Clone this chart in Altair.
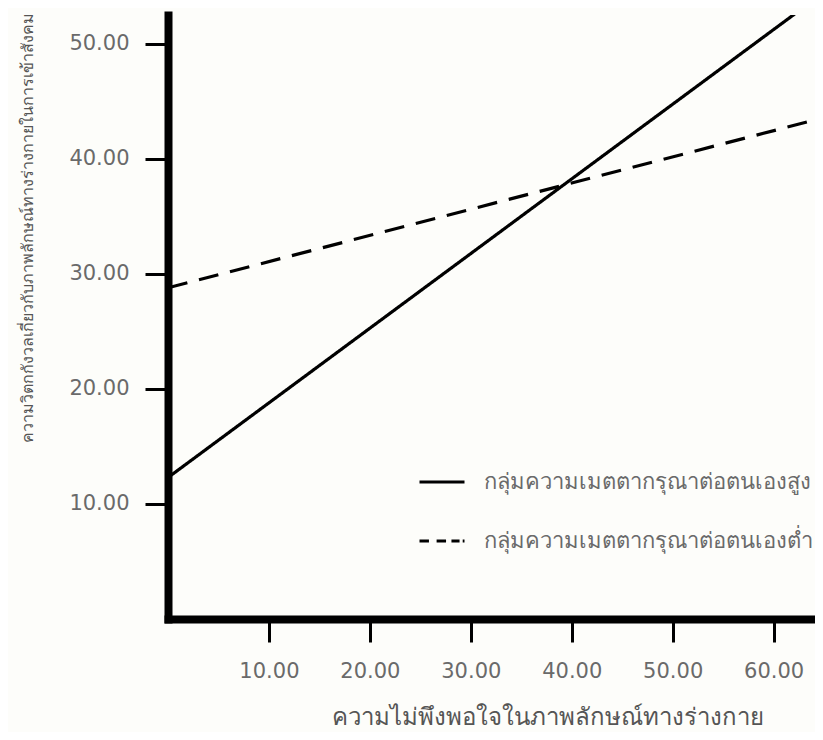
import altair as alt
import pandas as pd

# Data (line endpoints)
groups = ["กลุ่มความเมตตากรุณาต่อตนเองสูง", "กลุ่มความเมตตากรุณาต่อตนเองต่ำ"]
x_start = [0.0, 0.0]
x_end = [65.0, 65.0]
y_start = [12.3, 28.8]
y_end = [54.5, 43.6]

x_ticks = [10, 20, 30, 40, 50, 60]
y_ticks = [10, 20, 30, 40, 50]

x_title = "ความไม่พึงพอใจในภาพลักษณ์ทางร่างกาย"
y_title = "ความวิตกกังวลเกี่ยวกับภาพลักษณ์ทางร่างกายในการเข้าสังคม"

rows = []
for g, xs, xe, ys, ye in zip(groups, x_start, x_end, y_start, y_end):
    rows.append({"group": g, "legend_group": g, "x": xs, "y": ys})
    rows.append({"group": g, "legend_group": g, "x": xe, "y": ye})
df = pd.DataFrame(rows)

LABEL_FONT = "DejaVu Sans"
THAI_FONT = "Noto Sans"
GRAY = "#6a6a6a"

x_enc = alt.X(
    "x:Q",
    scale=alt.Scale(domain=[0, 64.1], nice=False, zero=False),
    axis=alt.Axis(
        values=x_ticks, format=".2f", title=x_title,
        domainColor="black", domainWidth=8, domainCap="square",
        tickColor="black", tickWidth=3, tickSize=23,
        labelFont=LABEL_FONT, labelFontSize=21, labelColor=GRAY, labelPadding=18,
        titleFont=THAI_FONT, titleFontSize=24, titleColor="#555555", titleFontWeight="normal",
        titleX=379, titleY=105, titleBaseline="alphabetic", titleAnchor="middle",
        grid=False,
    ),
)
y_enc = alt.Y(
    "y:Q",
    scale=alt.Scale(domain=[0, 52.52], nice=False, zero=False),
    axis=alt.Axis(
        values=y_ticks, format=".2f", title=y_title,
        domainColor="black", domainWidth=8, domainCap="square",
        tickColor="black", tickWidth=3, tickSize=23,
        labelFont=LABEL_FONT, labelFontSize=21, labelColor=GRAY, labelPadding=16,
        titleFont=THAI_FONT, titleFontSize=16, titleColor="#555555", titleFontWeight="normal",
        titleAngle=270, titleX=-141, titleY=212, titleBaseline="middle", titleAlign="center",
        grid=False,
    ),
)

lines = alt.Chart(df).mark_line(clip=True, color="black", strokeWidth=3.2).encode(
    x=x_enc,
    y=y_enc,
    strokeDash=alt.StrokeDash(
        "group:N",
        scale=alt.Scale(domain=groups, range=[[1, 0], [20, 12]]),
        legend=None,
    ),
    detail="group:N",
)

legend_pts = alt.Chart(df).mark_point(opacity=0, filled=False, color="black", size=1).encode(
    x="x:Q",
    y="y:Q",
    shape=alt.Shape(
        "legend_group:N",
        scale=alt.Scale(
            domain=groups,
            range=["M-1,0H1", "M-1,0H-0.58M-0.24,0H0.18M0.42,0H0.78M0.92,0H1"],
        ),
        legend=alt.Legend(
            title=None, orient="none", legendX=250, legendY=443,
            symbolSize=2025, symbolStrokeWidth=3, symbolStrokeColor="black",
            symbolFillColor="transparent", symbolOpacity=1,
            labelFont=THAI_FONT, labelFontSize=22, labelColor=GRAY,
            labelOffset=18, rowPadding=24, padding=0, labelLimit=400,
        ),
    ),
)

chart = alt.layer(lines, legend_pts).resolve_legend(
    shape="independent", strokeDash="independent"
).properties(
    width=647,
    height=604,
    autosize=alt.AutoSizeParams(type="none"),
    padding={"left": 160, "top": 7, "right": 0, "bottom": 113},
    background="#fdfdfa",
).configure_view(stroke=None)

chart.save("out.html", embed_options={"renderer": "svg", "actions": False})
